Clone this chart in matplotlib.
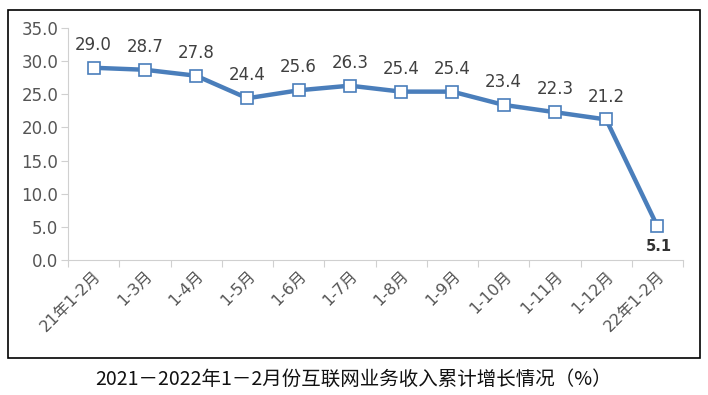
import matplotlib
matplotlib.use("Agg")
import matplotlib.pyplot as plt
from matplotlib.patches import Rectangle

plt.rcParams['font.family'] = ['DejaVu Sans', 'Noto Sans CJK SC']

categories = ["21年1-2月", "1-3月", "1-4月", "1-5月", "1-6月", "1-7月", "1-8月",
              "1-9月", "1-10月", "1-11月", "1-12月", "22年1-2月"]
values = [29.0, 28.7, 27.8, 24.4, 25.6, 26.3, 25.4, 25.4, 23.4, 22.3, 21.2, 5.1]
yticks = [0, 5, 10, 15, 20, 25, 30, 35]
title = "2021－2022年1－2月份互联网业务收入累计增长情况（%）"

fig = plt.figure(figsize=(7.08, 3.95), dpi=100)
ax = fig.add_axes([68/708, 1-260/395, (683-68)/708, (260-28)/395])

xs = [i + 0.5 for i in range(len(values))]
ax.plot(xs, values, color='#4a7ebb', lw=3.2, marker='s', ms=8.5,
        mfc='white', mec='#4a7ebb', mew=1.2, zorder=3, clip_on=False)

for i, (x, v) in enumerate(zip(xs, values)):
    if i == len(values) - 1:
        ax.annotate(f"{v:.1f}", (x, v), xytext=(1, -9), textcoords='offset points',
                    ha='center', va='top', fontsize=10.5, fontweight='bold', color='#333333')
    else:
        ax.annotate(f"{v:.1f}", (x, v), xytext=(0, 10), textcoords='offset points',
                    ha='center', va='bottom', fontsize=12, color='#404040')

ax.set_xlim(0, len(values))
ax.set_ylim(0, 35)
ax.set_yticks(yticks)
ax.set_yticklabels([f"{t:.1f}" for t in yticks], fontsize=12, color='#555555')
ax.set_xticks(range(len(values) + 1))
ax.set_xticklabels([])
ax.set_xticks(xs, minor=True)
ax.set_xticklabels(categories, minor=True, rotation=45, ha='right',
                   rotation_mode='anchor', fontsize=11.5, color='#555555')
ax.tick_params(axis='x', which='minor', length=0, pad=6)
ax.tick_params(axis='x', which='major', length=5, color='#d0d0d0')
ax.tick_params(axis='y', length=5, color='#d0d0d0', pad=2)

for s in ['top', 'right']:
    ax.spines[s].set_visible(False)
for s in ['left', 'bottom']:
    ax.spines[s].set_color('#d0d0d0')

fig.patches.append(Rectangle((8/708, 1-358/395), (700-8)/708, (358-10)/395,
                             transform=fig.transFigure, fill=False,
                             edgecolor='black', lw=1.2))

fig.text(0.5, 1-379/395, title, ha='center', va='center', fontsize=14,
         family=['Noto Sans CJK SC', 'DejaVu Sans'], color='#111111')

fig.savefig("out.png", dpi=100)
